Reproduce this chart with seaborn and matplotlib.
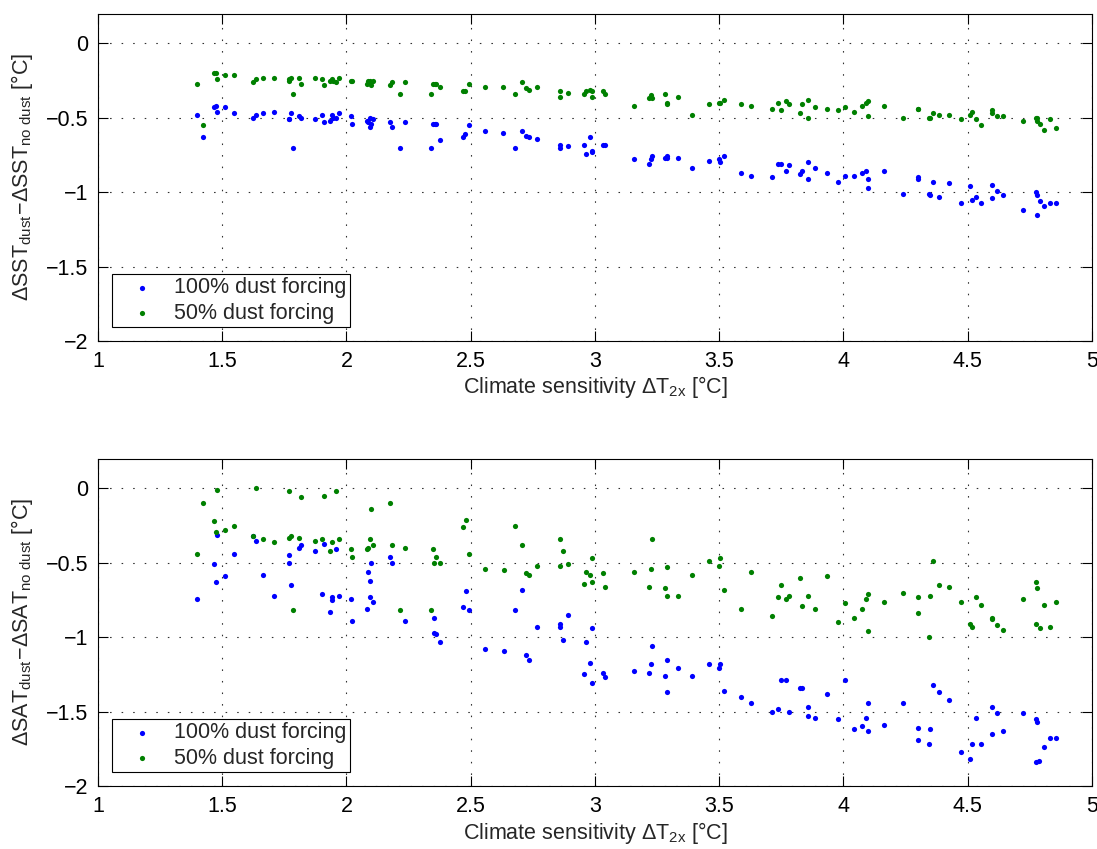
import matplotlib
matplotlib.use("Agg")
import matplotlib.pyplot as plt
import seaborn as sns
import pandas as pd

# ---------------- data ----------------
# Top panel: SST difference (x shared by both series)
sst_x = [1.398, 1.424, 1.465, 1.474, 1.478, 1.511, 1.549, 1.623, 1.634, 1.664,
         1.710, 1.767, 1.770, 1.775, 1.783, 1.810, 1.816, 1.874, 1.902, 1.909,
         1.935, 1.940, 1.944, 1.957, 1.970, 2.019, 2.022, 2.083, 2.088, 2.094,
         2.095, 2.100, 2.108,
         2.175, 2.185, 2.215, 2.235, 2.341, 2.349, 2.357, 2.360, 2.377, 2.470,
         2.479, 2.493, 2.556, 2.631, 2.677, 2.708, 2.723, 2.736, 2.765, 2.858,
         2.859,
         2.891, 2.957, 2.962, 2.981, 2.987, 2.990, 3.031, 3.042, 3.159, 3.216,
         3.226, 3.230, 3.283, 3.288, 3.289, 3.334, 3.390, 3.459, 3.500, 3.505,
         3.520, 3.588, 3.626,
         3.711, 3.735, 3.748, 3.767, 3.781, 3.826, 3.835, 3.856, 3.856, 3.885,
         3.934, 3.977, 4.007, 4.043, 4.076, 4.089, 4.098, 4.099, 4.162, 4.240,
         4.300, 4.300, 4.343, 4.350, 4.362, 4.383,
         4.426, 4.475, 4.510, 4.519, 4.533, 4.552, 4.598, 4.599, 4.618, 4.643,
         4.723, 4.774, 4.777, 4.780, 4.789, 4.808, 4.830, 4.857]

sst_100 = [-0.48, -0.63, -0.43, -0.42, -0.46, -0.43, -0.47, -0.50, -0.48, -0.47,
           -0.46, -0.51, -0.51, -0.47, -0.70, -0.49, -0.50, -0.51, -0.48, -0.53,
           -0.52, -0.48, -0.50, -0.50, -0.47, -0.49, -0.54, -0.52, -0.53, -0.50,
           -0.56, -0.54, -0.51,
           -0.53, -0.56, -0.70, -0.53, -0.70, -0.54, -0.54, -0.54, -0.65, -0.63,
           -0.61, -0.55, -0.59, -0.60, -0.70, -0.59, -0.62, -0.63, -0.64, -0.68,
           -0.70,
           -0.69, -0.68, -0.74, -0.63, -0.72, -0.73, -0.68, -0.68, -0.78, -0.81,
           -0.78, -0.76, -0.77, -0.76, -0.77, -0.77, -0.84, -0.79, -0.78, -0.80,
           -0.76, -0.87, -0.89,
           -0.90, -0.81, -0.81, -0.86, -0.82, -0.88, -0.86, -0.80, -0.91, -0.84,
           -0.87, -0.93, -0.89, -0.89, -0.87, -0.86, -0.91, -0.97, -0.86, -1.01,
           -0.90, -0.91, -1.01, -1.02, -0.93, -1.03,
           -0.94, -1.07, -0.96, -1.05, -1.03, -1.07, -0.95, -1.04, -0.99, -1.02,
           -1.12, -1.00, -1.02, -1.15, -1.06, -1.09, -1.07, -1.07]

sst_50 = [-0.27, -0.55, -0.20, -0.20, -0.24, -0.21, -0.21, -0.26, -0.24, -0.23,
          -0.23, -0.25, -0.24, -0.23, -0.34, -0.23, -0.27, -0.23, -0.24, -0.28,
          -0.25, -0.24, -0.25, -0.26, -0.23, -0.25, -0.25, -0.27, -0.25, -0.25,
          -0.26, -0.28, -0.25,
          -0.28, -0.26, -0.34, -0.26, -0.34, -0.27, -0.27, -0.27, -0.29, -0.32,
          -0.32, -0.27, -0.29, -0.29, -0.34, -0.26, -0.30, -0.31, -0.29, -0.32,
          -0.36,
          -0.33, -0.34, -0.32, -0.31, -0.36, -0.32, -0.32, -0.34, -0.42, -0.37,
          -0.35, -0.37, -0.34, -0.40, -0.41, -0.36, -0.48, -0.41, -0.40, -0.40,
          -0.38, -0.41, -0.42,
          -0.44, -0.40, -0.45, -0.39, -0.41, -0.47, -0.41, -0.38, -0.50, -0.43,
          -0.44, -0.45, -0.43, -0.46, -0.42, -0.40, -0.39, -0.49, -0.42, -0.50,
          -0.44, -0.44, -0.50, -0.50, -0.47, -0.48,
          -0.48, -0.51, -0.48, -0.46, -0.51, -0.55, -0.47, -0.45, -0.49, -0.49,
          -0.52, -0.50, -0.50, -0.52, -0.54, -0.58, -0.51, -0.57]

# Bottom panel: SAT difference
sat_100_x = [1.398, 1.465, 1.474, 1.478, 1.511, 1.549, 1.623, 1.634, 1.664, 1.710,
             1.767, 1.770, 1.775, 1.810, 1.816, 1.874, 1.902, 1.909, 1.935, 1.940,
             1.941, 1.957, 1.970, 2.019, 2.022, 2.083, 2.088, 2.094, 2.094, 2.100,
             2.108,
             2.174, 2.185, 2.235, 2.352, 2.352, 2.361, 2.377, 2.470, 2.482, 2.493,
             2.556, 2.632, 2.677, 2.708, 2.723, 2.736, 2.765, 2.858, 2.858,
             2.873, 2.891, 2.957, 2.962, 2.981, 2.987, 2.990, 3.031, 3.042, 3.159,
             3.216, 3.226, 3.230, 3.283, 3.288, 3.289, 3.334, 3.390, 3.459, 3.500,
             3.505, 3.520, 3.588, 3.626,
             3.711, 3.735, 3.748, 3.767, 3.781, 3.826, 3.835, 3.856, 3.856, 3.885,
             3.934, 3.977, 4.007, 4.043, 4.076, 4.089, 4.098, 4.099, 4.162, 4.240,
             4.300, 4.300, 4.343, 4.350, 4.362, 4.383,
             4.426, 4.475, 4.511, 4.519, 4.533, 4.552, 4.598, 4.599, 4.617, 4.643,
             4.723, 4.774, 4.780, 4.788, 4.774, 4.808, 4.830, 4.857]

sat_100 = [-0.74, -0.51, -0.63, -0.31, -0.59, -0.44, -0.32, -0.35, -0.58, -0.72,
           -0.45, -0.50, -0.65, -0.40, -0.38, -0.42, -0.71, -0.37, -0.83, -0.75,
           -0.73, -0.41, -0.72, -0.74, -0.89, -0.81, -0.56, -0.62, -0.73, -0.50,
           -0.76,
           -0.46, -0.50, -0.89, -0.87, -0.97, -0.98, -1.03, -0.80, -0.69, -0.82,
           -1.08, -1.09, -0.82, -0.68, -1.12, -1.15, -0.93, -0.91, -0.93,
           -1.02, -0.85, -1.25, -1.03, -1.17, -1.31, -0.94, -1.24, -1.27, -1.23,
           -1.24, -1.18, -1.06, -1.26, -1.15, -1.37, -1.21, -1.26, -1.18, -1.21,
           -1.18, -1.36, -1.40, -1.44,
           -1.50, -1.48, -1.29, -1.29, -1.50, -1.34, -1.34, -1.47, -1.53, -1.54,
           -1.38, -1.55, -1.29, -1.62, -1.60, -1.54, -1.44, -1.63, -1.59, -1.44,
           -1.61, -1.69, -1.72, -1.62, -1.32, -1.37,
           -1.42, -1.77, -1.82, -1.72, -1.54, -1.72, -1.47, -1.65, -1.51, -1.63,
           -1.51, -1.55, -1.57, -1.83, -1.84, -1.74, -1.68, -1.68]

sat_50_x = [1.398, 1.424, 1.465, 1.474, 1.478, 1.511, 1.549, 1.623, 1.634, 1.664,
            1.710, 1.767, 1.770, 1.775, 1.783, 1.810, 1.816, 1.874, 1.902, 1.909,
            1.935, 1.940, 1.957, 1.970, 2.019, 2.022, 2.083, 2.088, 2.094, 2.100,
            2.108,
            2.174, 2.185, 2.215, 2.235, 2.341, 2.350, 2.352, 2.361, 2.377, 2.470,
            2.482, 2.493, 2.556, 2.632, 2.677, 2.708, 2.723, 2.736, 2.765, 2.858,
            2.858,
            2.873, 2.891, 2.957, 2.962, 2.981, 2.987, 2.990, 3.031, 3.042, 3.159,
            3.216, 3.226, 3.230, 3.283, 3.288, 3.289, 3.334, 3.390, 3.459, 3.500,
            3.505, 3.520, 3.588, 3.626,
            3.711, 3.735, 3.748, 3.767, 3.781, 3.826, 3.835, 3.856, 3.885, 3.934,
            3.977, 4.007, 4.043, 4.076, 4.089, 4.098, 4.099, 4.162, 4.240, 4.300,
            4.300, 4.343, 4.350, 4.362, 4.383,
            4.426, 4.475, 4.511, 4.519, 4.533, 4.552, 4.598, 4.599, 4.617, 4.643,
            4.723, 4.774, 4.780, 4.774, 4.789, 4.808, 4.830, 4.857]

sat_50 = [-0.44, -0.10, -0.22, -0.29, -0.01, -0.28, -0.25, -0.32, 0.00, -0.34,
          -0.36, -0.02, -0.33, -0.32, -0.82, -0.33, -0.06, -0.35, -0.34, -0.05,
          -0.42, -0.36, -0.02, -0.34, -0.41, -0.46, -0.41, -0.40, -0.34, -0.14,
          -0.38,
          -0.10, -0.38, -0.82, -0.40, -0.82, -0.41, -0.50, -0.46, -0.50, -0.26,
          -0.21, -0.44, -0.54, -0.55, -0.25, -0.38, -0.57, -0.58, -0.52, -0.34,
          -0.52,
          -0.42, -0.51, -0.64, -0.56, -0.58, -0.63, -0.47, -0.57, -0.66, -0.56,
          -0.66, -0.54, -0.34, -0.67, -0.53, -0.72, -0.72, -0.58, -0.49, -0.52,
          -0.47, -0.68, -0.81, -0.56,
          -0.86, -0.73, -0.65, -0.74, -0.72, -0.60, -0.79, -0.72, -0.81, -0.59,
          -0.90, -0.77, -0.87, -0.81, -0.74, -0.71, -0.96, -0.76, -0.70, -0.73,
          -0.84, -1.00, -0.72, -0.49, -0.65,
          -0.66, -0.76, -0.91, -0.93, -0.73, -0.78, -0.87, -0.88, -0.92, -0.95,
          -0.74, -0.63, -0.67, -0.91, -0.94, -0.78, -0.93, -0.76]

labels = ["100% dust forcing", "50% dust forcing"]
x_ticks = [1, 1.5, 2, 2.5, 3, 3.5, 4, 4.5, 5]
x_ticklabels = ["1", "1.5", "2", "2.5", "3", "3.5", "4", "4.5", "5"]
y_ticks = [-2, -1.5, -1, -0.5, 0]
y_ticklabels = ["\u22122", "\u22121.5", "\u22121", "\u22120.5", "0"]
xlabel = r"Climate sensitivity $\mathregular{\Delta T_{2x}}$ [°C]"
ylabels = [r"$\mathregular{\Delta SST_{dust}\!-\!\Delta SST_{no\ dust}}$ [°C]",
           r"$\mathregular{\Delta SAT_{dust}\!-\!\Delta SAT_{no\ dust}}$ [°C]"]

# ---------------- style ----------------
sns.set_style("ticks")
plt.rcParams['font.family'] = ['Liberation Sans', 'DejaVu Sans']
plt.rcParams['mathtext.fontset'] = 'custom'
plt.rcParams['mathtext.rm'] = 'Liberation Sans'
plt.rcParams['mathtext.it'] = 'Liberation Sans'
plt.rcParams['mathtext.bf'] = 'Liberation Sans:bold'

FS = 15.5
BLUE = "#0000ff"
GREEN = "#008000"

fig = plt.figure(figsize=(10.97, 8.49), dpi=100)
ax1 = fig.add_axes([0.0893, 0.5984, 0.9061, 0.3855])
ax2 = fig.add_axes([0.0893, 0.0742, 0.9061, 0.3855])

panels = [
    (ax1, pd.DataFrame({"x": sst_x, "y": sst_100}), pd.DataFrame({"x": sst_x, "y": sst_50}), ylabels[0]),
    (ax2, pd.DataFrame({"x": sat_100_x, "y": sat_100}), pd.DataFrame({"x": sat_50_x, "y": sat_50}), ylabels[1]),
]

for ax, d100, d50, ylab in panels:
    sns.scatterplot(data=d100, x="x", y="y", color=BLUE, s=14, linewidth=0,
                    ax=ax, label=labels[0], zorder=3)
    sns.scatterplot(data=d50, x="x", y="y", color=GREEN, s=14, linewidth=0,
                    ax=ax, label=labels[1], zorder=3)
    ax.set_xlim(1, 5)
    ax.set_ylim(-2, 0.2)
    ax.set_xticks(x_ticks)
    ax.set_xticklabels(x_ticklabels)
    ax.set_yticks(y_ticks)
    ax.set_yticklabels(y_ticklabels)
    ax.grid(True, color="#303030", linestyle=(0, (1.4, 9.0)), linewidth=0.8)
    ax.set_axisbelow(True)
    for sp in ax.spines.values():
        sp.set_visible(True)
        sp.set_linewidth(0.8)
        sp.set_color("black")
    ax.tick_params(direction="in", length=7, width=0.8, top=True, right=True,
                   labelsize=FS, pad=7, colors="black")
    ax.set_xlabel(xlabel, fontsize=FS, labelpad=2)
    ax.set_ylabel(ylab, fontsize=FS, labelpad=8)
    leg = ax.legend(loc="lower left", fontsize=FS, frameon=True, fancybox=False,
                    edgecolor="black", framealpha=1, borderaxespad=0.65,
                    handletextpad=0.25, labelspacing=0.2, borderpad=0.15,
                    handlelength=2.5, markerscale=1.0)
    leg.get_frame().set_linewidth(0.8)

fig.savefig("out.png", dpi=100, facecolor="white")
